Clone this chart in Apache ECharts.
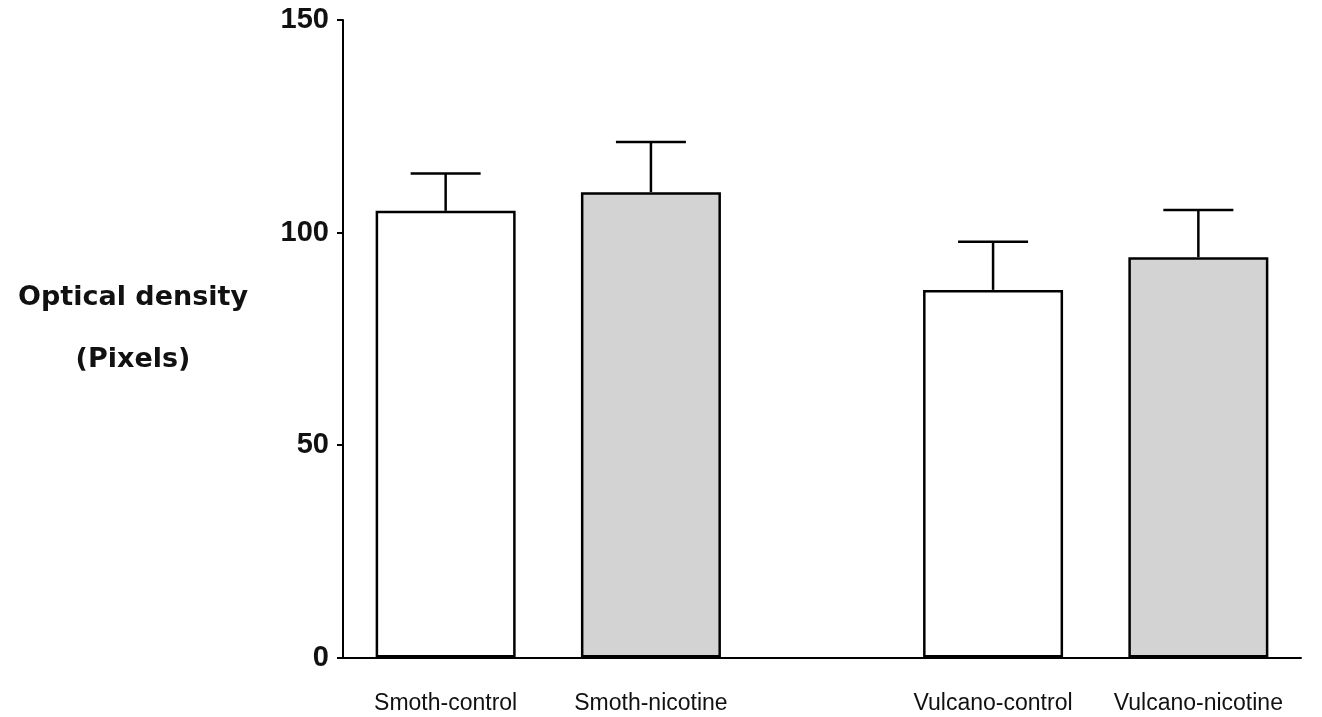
<!DOCTYPE html>
<html>
<head>
<meta charset="utf-8">
<script src="https://cdn.jsdelivr.net/npm/echarts@6/dist/echarts.min.js"></script>
<style>
  html, body { margin: 0; padding: 0; background: #fff; }
  #chart { width: 1322px; height: 717px; }
</style>
</head>
<body>
<div id="chart"></div>
<script>
const categories = ['Smoth-control', 'Smoth-nicotine', 'Vulcano-control', 'Vulcano-nicotine']
const slots = [1.5, 4.5, 9.5, 12.5]
const means = [105.1, 109.5, 86.5, 94.2]
const errors = [8.8, 11.8, 11.3, 11.1]
const yTicks = [0, 50, 100, 150]

const fills = ['#ffffff', '#d3d3d3']
const chart = echarts.init(document.getElementById('chart'))

chart.setOption({
  animation: false,
  title: {
    text: 'Optical density\n(Pixels)',
    left: 128,
    top: 262,
    textAlign: 'center',
    textStyle: {
      fontFamily: 'DejaVu Sans',
      fontSize: 27,
      fontWeight: 'bold',
      color: '#111',
      lineHeight: 62
    }
  },
  grid: { left: 343, right: 21, top: 20, bottom: 59.5 },
  xAxis: {
    type: 'value',
    min: 0,
    max: 14,
    splitLine: { show: false },
    axisLine: { show: true, lineStyle: { color: '#000', width: 2 } },
    axisTick: { show: false },
    axisLabel: {
      customValues: slots,
      formatter: function(v) {
        const i = slots.indexOf(v)
        return i >= 0 ? categories[i] : ''
      },
      margin: 35,
      fontFamily: 'Liberation Sans, Arial',
      fontSize: 23,
      color: '#111'
    }
  },
  yAxis: {
    type: 'value',
    min: 0,
    max: 150,
    interval: 50,
    splitLine: { show: false },
    axisLine: { show: true, lineStyle: { color: '#000', width: 2 } },
    axisTick: { show: true, inside: false, length: 6, lineStyle: { color: '#000', width: 2 } },
    axisLabel: {
      customValues: yTicks,
      margin: 14,
      fontFamily: 'Liberation Sans, Arial',
      fontSize: 29,
      fontWeight: 'bold',
      color: '#111'
    }
  },
  series: [{
    type: 'bar',
    barWidth: 140,
    z: 2,
    data: slots.map(function(s, i) {
      return {
        value: [s, means[i]],
        itemStyle: { color: fills[i % 2], borderColor: '#000', borderWidth: 2.5 }
      }
    })
  }, {
    type: 'custom',
    z: 3,
    data: slots.map(function(s, i) { return [s, means[i], means[i] + errors[i]] }),
    renderItem: function(params, api) {
      const base = api.coord([api.value(0), api.value(1)])
      const top = api.coord([api.value(0), api.value(2)])
      const half = 35
      const style = { stroke: '#000', lineWidth: 2.5 }
      return {
        type: 'group',
        children: [
          { type: 'line', shape: { x1: base[0], y1: base[1], x2: top[0], y2: top[1] }, style: style },
          { type: 'line', shape: { x1: top[0] - half, y1: top[1], x2: top[0] + half, y2: top[1] }, style: style }
        ]
      }
    }
  }]
})
</script>
</body>
</html>
